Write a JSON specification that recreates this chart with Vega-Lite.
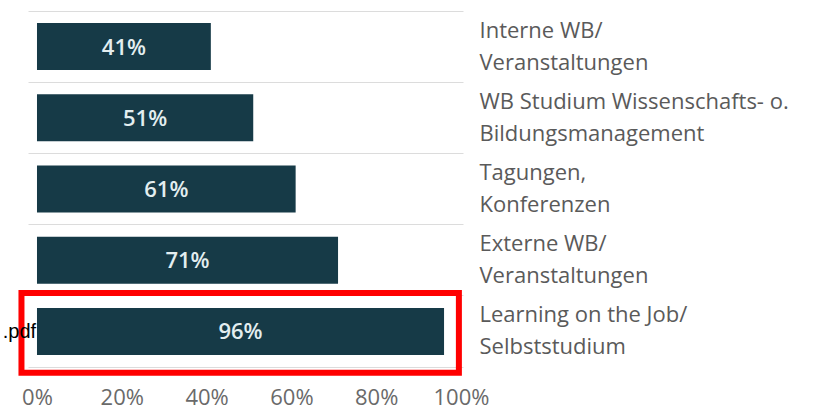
{
  "$schema": "https://vega.github.io/schema/vega-lite/v6.json",
  "width": 435,
  "height": 356,
  "autosize": {"type": "none"},
  "padding": {"left": 28, "top": 11, "right": 367, "bottom": 44},
  "background": "white",
  "config": {"view": {"stroke": null}, "font": "Open Sans"},
  "data": {
    "values": [
      {"kategorie": "Interne WB/|Veranstaltungen", "anteil": 0.41, "markiert": false},
      {"kategorie": "WB Studium Wissenschafts- o.|\u00a0Bildungsmanagement", "anteil": 0.51, "markiert": false},
      {"kategorie": "Tagungen,|Konferenzen", "anteil": 0.61, "markiert": false},
      {"kategorie": "Externe WB/|Veranstaltungen", "anteil": 0.71, "markiert": false},
      {"kategorie": "Learning on the Job/|Selbststudium", "anteil": 0.96, "markiert": true}
    ]
  },
  "encoding": {
    "y": {
      "field": "kategorie",
      "type": "nominal",
      "sort": null,
      "scale": {"paddingInner": 0, "paddingOuter": 0},
      "axis": {
        "orient": "right",
        "title": null,
        "domain": false,
        "ticks": false,
        "grid": true,
        "bandPosition": 0,
        "gridColor": "#dcdcdc",
        "gridWidth": 1,
        "labelExpr": "split(datum.label, '|')",
        "labelFont": "Open Sans",
        "labelFontSize": 22,
        "labelColor": "#5a5a5a",
        "labelLineHeight": 32,
        "labelPadding": 16,
        "labelOffset": -16,
        "labelAlign": "left",
        "labelBaseline": "middle",
        "labelLimit": 400
      }
    }
  },
  "layer": [
    {
      "mark": {"type": "bar", "color": "#163a47", "height": {"band": 0.66}},
      "encoding": {
        "x": {
          "field": "anteil",
          "type": "quantitative",
          "scale": {"domain": [-0.0212, 1.0047], "nice": false, "zero": false},
          "axis": {
            "values": [0, 0.2, 0.4, 0.6, 0.8, 1],
            "format": ".0%",
            "title": null,
            "grid": false,
            "ticks": false,
            "domain": true,
            "domainColor": "#dcdcdc",
            "labelFont": "Open Sans",
            "labelFontSize": 22,
            "labelColor": "#6a6a6a",
            "labelPadding": 20
          }
        },
        "x2": {"datum": 0}
      }
    },
    {
      "transform": [{"calculate": "datum.anteil / 2", "as": "mitte"}],
      "mark": {"type": "text", "color": "#e3eef0", "fontSize": 22, "fontWeight": 600, "font": "Open Sans", "baseline": "middle", "align": "center", "dy": 1},
      "encoding": {
        "x": {"field": "mitte", "type": "quantitative"},
        "text": {"field": "anteil", "type": "quantitative", "format": ".0%"}
      }
    },
    {
      "transform": [{"filter": "datum.markiert"}],
      "mark": {"type": "bar", "fill": null, "fillOpacity": 0, "stroke": "#ff0000", "strokeWidth": 6, "height": {"band": 1.12}, "yOffset": 1.5},
      "encoding": {
        "x": {"datum": -0.0366},
        "x2": {"datum": 0.995}
      }
    },
    {
      "transform": [{"filter": "datum.markiert"}],
      "mark": {"type": "text", "text": ".pdf", "align": "right", "baseline": "middle", "font": "Liberation Sans", "fontSize": 20, "color": "#000000", "dy": 1},
      "encoding": {
        "x": {"datum": -0.002}
      }
    }
  ]
}
